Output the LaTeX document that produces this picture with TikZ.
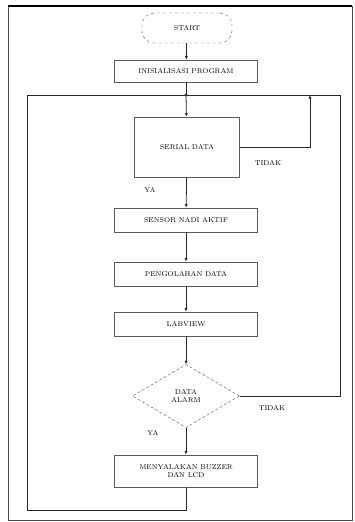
\documentclass[tikz,border=0pt]{standalone}
\usepackage{tikz}
\usetikzlibrary{arrows.meta,positioning,calc,shapes.geometric}
\definecolor{boxline}{RGB}{90,90,90}
\definecolor{flowline}{RGB}{40,40,40}
\tikzset{
  procbox/.style={draw=boxline,line width=0.6pt,minimum width=143,minimum height=24,inner sep=1pt,font=\fontsize{7}{8}\selectfont,align=center},
  termbox/.style={draw=boxline,dashed,rounded corners=12,minimum width=90,minimum height=30,font=\fontsize{7}{8}\selectfont},
  decbox/.style={diamond,draw=boxline,densely dashed,minimum width=107,minimum height=63,aspect=1.7,inner sep=0pt,font=\fontsize{7}{8}\selectfont,align=center},
  flow/.style={draw=flowline,line width=0.8pt},
  lbl/.style={font=\fontsize{7}{8}\selectfont}
}
\newcommand{\flowarrow}[2]{\draw[flow,-{Latex[length=3.5,width=3]}] (#1) -- (#2);}

\begin{document}
\begin{tikzpicture}[x=1pt,y=-1pt]
\useasboundingbox (0,0) rectangle (354,522);
\draw[black!70,line width=0.8pt] (8,6) rectangle (352,520);
\draw[black,line width=1.4pt] (8,6) -- (352,6);
% blocks
\node[termbox] (start) at (187,28) {START};
\node[procbox,minimum height=22] (init) at (186,71) {INISIALISASI PROGRAM};
\node[procbox,minimum width=105,minimum height=60] (serial) at (187,147) {SERIAL DATA};
\node[procbox] (sensor) at (186,220) {SENSOR NADI AKTIF};
\node[procbox] (olah) at (186,274) {PENGOLAHAN DATA};
\node[procbox] (labview) at (186,324) {LABVIEW};
\node[decbox] (cek) at (186,396) {DATA\\ALARM};
\node[procbox,minimum height=32] (buzzer) at (186,471) {MENYALAKAN BUZZER\\DAN LCD};
% loop points
\coordinate (jn) at (186,95);
\coordinate (jr) at (310,95);
\coordinate (rr) at (340,95);
\coordinate (bl) at (27,510);
\coordinate (tl) at (27,95);
% connectors
\flowarrow{start}{init}
\draw[flow] (init) -- (jn);
\flowarrow{jn}{serial}
\draw[flow,-{Latex[length=3.5,width=3]}] (serial.east) -| (jr);
\draw[flow] (cek.east) -| (rr) -- (jn);
\draw[flow] (buzzer.south) |- (bl) -- (tl) -- (jn);
\fill[flowline] (jn) circle (1.6);
\flowarrow{serial}{sensor}
\flowarrow{sensor}{olah}
\flowarrow{olah}{labview}
\flowarrow{labview}{cek}
\flowarrow{cek}{buzzer}
% labels
\node[lbl] (tidaka) at (268,163) {TIDAK};
\node[lbl] (yaa) at (150,190) {YA};
\node[lbl] (tidakb) at (272,408) {TIDAK};
\node[lbl] (yab) at (153,433) {YA};
\end{tikzpicture}
\end{document}
